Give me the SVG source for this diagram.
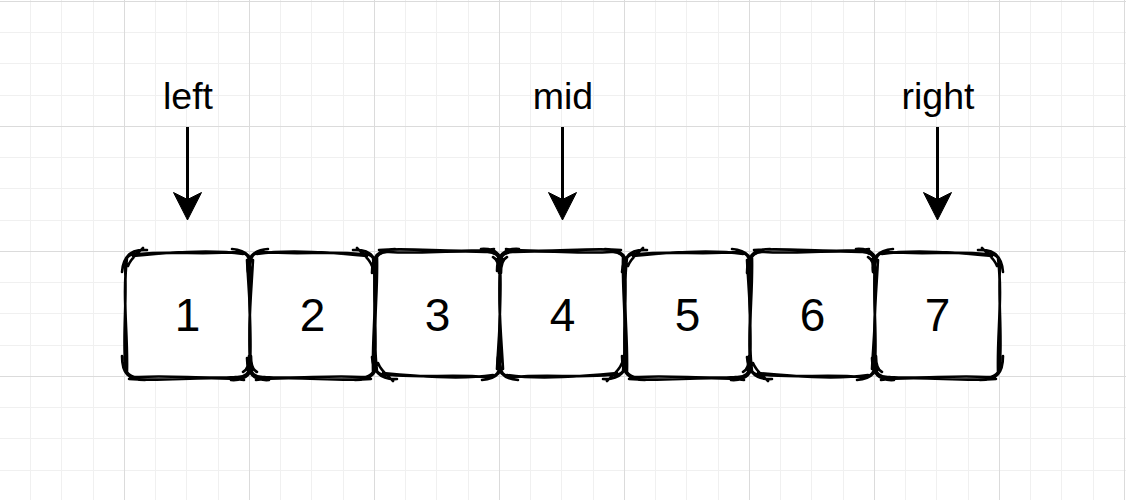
<svg xmlns="http://www.w3.org/2000/svg" xmlns:xlink="http://www.w3.org/1999/xlink" width="1126" height="500" viewBox="0 0 1126 500">
  <defs>
    <pattern id="grid" patternUnits="userSpaceOnUse" x="124" y="1" width="125" height="125">
      <rect x="31" y="0" width="1" height="125" fill="#f0f0f0"/>
      <rect x="62" y="0" width="1" height="125" fill="#f0f0f0"/>
      <rect x="94" y="0" width="1" height="125" fill="#f0f0f0"/>
      <rect x="0" y="31" width="125" height="1" fill="#f0f0f0"/>
      <rect x="0" y="62" width="125" height="1" fill="#f0f0f0"/>
      <rect x="0" y="94" width="125" height="1" fill="#f0f0f0"/>
      <rect x="0" y="0" width="1" height="125" fill="#dbdbdb"/>
      <rect x="0" y="0" width="125" height="1" fill="#dbdbdb"/>
    </pattern>
    <path id="sk" d="M14,2 C45,-1 80,3 111,0 M111,0 C121,-1 126,6 125,15 M125,15 C127,50 123,85 125,111 M125,111 C126,121 119,126 110,125 M110,125 C80,127 45,123 14,125 M14,125 C5,126 -1,120 0,110 M0,110 C-2,80 2,45 0,15 M0,15 C-1,5 6,0 16,2 M8,4 C40,1 85,-3 118,2 M107,-3 C122,-2 129,6 127,20 M122,8 C124,45 128,80 123,119 M128,106 C128,122 121,129 106,128 M119,128 C85,123 40,130 4,127 M20,128 C3,128 -3,121 -3,104 M2,119 C3,80 -3,45 2,6 M-3,20 C-2,4 6,-3 22,-2 M3,14 C6,6 12,2 18,-4 M118,120 C122,118 124,112 124,104"/>
  </defs>
  <style>
    .lbl { font-family: "Liberation Sans", Arial, sans-serif; font-size: 37.5px; fill: #000; text-anchor: middle; }
    .num { font-family: "Liberation Sans", Arial, sans-serif; font-size: 46px; fill: #000; text-anchor: middle; }
    .box { fill: #fff; }
    .rough { fill: none; stroke: #000; stroke-width: 2.6; stroke-linecap: round; stroke-linejoin: round; }
    .shaft { stroke: #000; stroke-width: 3; fill: none; }
    .head { fill: #000; stroke: #000; stroke-width: 1; stroke-linejoin: miter; }
  </style>
  <rect x="0" y="0" width="1126" height="500" fill="#ffffff"/>
  <rect x="0" y="0" width="1126" height="500" fill="url(#grid)"/>

  <g id="connectors">
    <g id="arrow-left">
      <line class="shaft" x1="187.5" y1="127" x2="187.5" y2="200"/>
      <path class="head" d="M187.5,220 L173.5,192.5 L187.5,199.5 L201.5,192.5 Z"/>
    </g>
    <g id="arrow-mid">
      <line class="shaft" x1="562.5" y1="127" x2="562.5" y2="200"/>
      <path class="head" d="M562.5,220 L548.5,192.5 L562.5,199.5 L576.5,192.5 Z"/>
    </g>
    <g id="arrow-right">
      <line class="shaft" x1="937.5" y1="127" x2="937.5" y2="200"/>
      <path class="head" d="M937.5,220 L923.5,192.5 L937.5,199.5 L951.5,192.5 Z"/>
    </g>
  </g>

  <g id="label-left"><text class="lbl" x="188" y="108.5">left</text></g>
  <g id="label-mid"><text class="lbl" x="563" y="108.5">mid</text></g>
  <g id="label-right"><text class="lbl" x="938" y="108.5">right</text></g>

  <g id="node-1">
    <rect class="box" x="125" y="252" width="125" height="125" rx="14"/>
    <use xlink:href="#sk" href="#sk" class="rough" transform="translate(125,252)"/>
    <text class="num" x="187.5" y="331">1</text>
  </g>
  <g id="node-2">
    <rect class="box" x="250" y="252" width="125" height="125" rx="14"/>
    <use xlink:href="#sk" href="#sk" class="rough" transform="translate(375,252) scale(-1,1)"/>
    <text class="num" x="312.5" y="331">2</text>
  </g>
  <g id="node-3">
    <rect class="box" x="375" y="252" width="125" height="125" rx="14"/>
    <use xlink:href="#sk" href="#sk" class="rough" transform="translate(375,377) scale(1,-1)"/>
    <text class="num" x="437.5" y="331">3</text>
  </g>
  <g id="node-4">
    <rect class="box" x="500" y="252" width="125" height="125" rx="14"/>
    <use xlink:href="#sk" href="#sk" class="rough" transform="translate(625,377) scale(-1,-1)"/>
    <text class="num" x="562.5" y="331">4</text>
  </g>
  <g id="node-5">
    <rect class="box" x="625" y="252" width="125" height="125" rx="14"/>
    <use xlink:href="#sk" href="#sk" class="rough" transform="translate(625,252)"/>
    <text class="num" x="687.5" y="331">5</text>
  </g>
  <g id="node-6">
    <rect class="box" x="750" y="252" width="125" height="125" rx="14"/>
    <use xlink:href="#sk" href="#sk" class="rough" transform="translate(750,377) scale(1,-1)"/>
    <text class="num" x="812.5" y="331">6</text>
  </g>
  <g id="node-7">
    <rect class="box" x="875" y="252" width="125" height="125" rx="14"/>
    <use xlink:href="#sk" href="#sk" class="rough" transform="translate(1000,252) scale(-1,1)"/>
    <text class="num" x="937.5" y="331">7</text>
  </g>
</svg>
